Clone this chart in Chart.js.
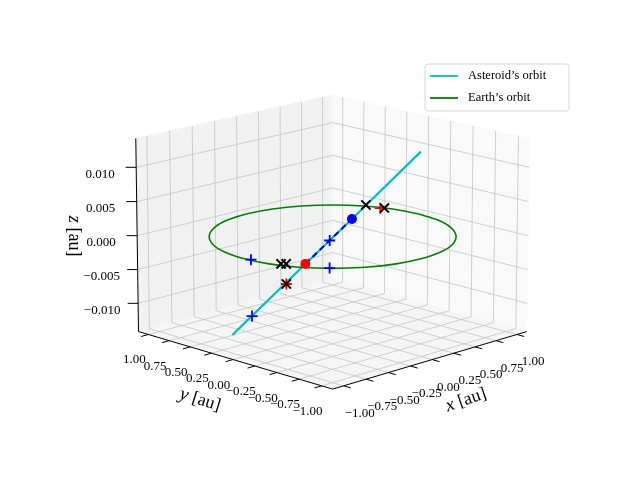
<!DOCTYPE html>
<html><head><meta charset="utf-8">
<script src="https://cdn.jsdelivr.net/npm/chart.js@4/dist/chart.umd.min.js"></script>
<style>html,body{margin:0;padding:0;background:#fff}</style>
</head><body>
<canvas id="c" width="640" height="480"></canvas>
<script>
// ---- data (au) ----
const earthX=[1,0.966,0.866,0.707,0.5,0.259,0,-0.259,-0.5,-0.707,-0.866,-0.966,-1,-0.966,-0.866,-0.707,-0.5,-0.259,0,0.259,0.5,0.707,0.866,0.966,1];
const earthY=[0,0.259,0.5,0.707,0.866,0.966,1,0.966,0.866,0.707,0.5,0.259,0,-0.259,-0.5,-0.707,-0.866,-0.966,-1,-0.966,-0.866,-0.707,-0.5,-0.259,0];
const astX=[-1.07,-0.386,-0.155,0.057,0.722];
const astY=[0.058,-0.076,-0.121,-0.163,-0.293];
const astZ=[-0.011,-0.0026,0.0002,0.0028,0.011];
const segX=[-0.386,0.057], segY=[-0.076,-0.163], segZ=[-0.0026,0.0028];
const redDotX=[-0.386], redDotY=[-0.076], redDotZ=[-0.0026];
const blueDotX=[0.057], blueDotY=[-0.163], blueDotZ=[0.0028];
const bluePlusX=[-0.888,-0.155,-0.98,-0.718], bluePlusY=[0.022,-0.121,-0.066,-0.684], bluePlusZ=[-0.0088,0.0002,0,0];
const redPlusX=[-0.869,0.913], redPlusY=[-0.352,0.352], redPlusZ=[-0.0029,0];
const blackXX=[-0.90,-0.871,-0.869,0.191,0.94], blackXY=[-0.325,-0.353,-0.352,-0.189,0.33], blackXZ=[0,0,-0.0029,0.0045,0];
const xyTicks=[-1,-0.75,-0.5,-0.25,0,0.25,0.5,0.75,1];
const xyTickLabels=['\u22121.00','\u22120.75','\u22120.50','\u22120.25','0.00','0.25','0.50','0.75','1.00'];
const zTicks=[-0.01,-0.005,0,0.005,0.01];
const zTickLabels=['\u22120.010','\u22120.005','0.000','0.005','0.010'];

// ---- projection ----
const L=1.12, ZL=0.0142, ZA=0.73, AZ=-135*Math.PI/180, EL=15*Math.PI/180, D=27, S=142, CX=333, CY=235.5;
const r=[-Math.sin(AZ),Math.cos(AZ),0];
const u=[-Math.sin(EL)*Math.cos(AZ),-Math.sin(EL)*Math.sin(AZ),Math.cos(EL)];
const v=[Math.cos(EL)*Math.cos(AZ),Math.cos(EL)*Math.sin(AZ),Math.sin(EL)];
function proj(x,y,z){
  const p=[x/L,y/L,z/ZL*ZA];
  const sx=p[0]*r[0]+p[1]*r[1]+p[2]*r[2];
  const sy=p[0]*u[0]+p[1]*u[1]+p[2]*u[2];
  const d=p[0]*v[0]+p[1]*v[1]+p[2]*v[2];
  const f=D/(D-d);
  return {x:sx*f,y:sy*f};
}
const pts=(X,Y,Z)=>X.map((x,i)=>proj(x,Y[i],Z?Z[i]:0));

const FONT='"Liberation Serif", "DejaVu Serif", serif';
const boxPlugin={
  id:'box',
  beforeDatasetsDraw(chart){
    const ctx=chart.ctx, sx=chart.scales.x, sy=chart.scales.y;
    const P=(x,y,z)=>{const q=proj(x,y,z);return [sx.getPixelForValue(q.x),sy.getPixelForValue(q.y)];};
    const poly=(arr,fill)=>{ctx.beginPath();arr.forEach((a,i)=>{const p=P(...a);i?ctx.lineTo(p[0],p[1]):ctx.moveTo(p[0],p[1]);});ctx.closePath();ctx.fillStyle=fill;ctx.fill();ctx.strokeStyle=fill;ctx.lineWidth=1;ctx.stroke();};
    const line=(a,b,col,w)=>{const p=P(...a),q=P(...b);ctx.beginPath();ctx.moveTo(p[0],p[1]);ctx.lineTo(q[0],q[1]);ctx.strokeStyle=col;ctx.lineWidth=w;ctx.stroke();};
    ctx.save();
    poly([[-L,L,-ZL],[L,L,-ZL],[L,L,ZL],[-L,L,ZL]],'#f2f2f2');
    poly([[L,-L,-ZL],[L,L,-ZL],[L,L,ZL],[L,-L,ZL]],'#f9f9f9');
    poly([[-L,-L,-ZL],[L,-L,-ZL],[L,L,-ZL],[-L,L,-ZL]],'#f6f6f6');
    const g='#c4c4c4';
    xyTicks.forEach(t=>{
      line([t,L,-ZL],[t,L,ZL],g,0.8);
      line([L,t,-ZL],[L,t,ZL],g,0.8);
      line([t,-L,-ZL],[t,L,-ZL],g,0.8);
      line([-L,t,-ZL],[L,t,-ZL],g,0.8);
    });
    zTicks.forEach(t=>{
      line([-L,L,t],[L,L,t],g,0.8);
      line([L,-L,t],[L,L,t],g,0.8);
    });
    line([-L,-L,-ZL],[L,-L,-ZL],'#000',1);
    line([-L,-L,-ZL],[-L,L,-ZL],'#000',1);
    line([-L,L,-ZL],[-L,L,ZL],'#000',1);
    ctx.fillStyle='#000';
    ctx.font='13px '+FONT;
    ctx.textAlign='center';ctx.textBaseline='middle';
    xyTicks.forEach((t,i)=>{
      line([t,-L,-ZL],[t,-L-0.08,-ZL],'#000',1);
      let p=P(t,-L-0.22,-ZL); ctx.fillText(xyTickLabels[i],p[0]-4,p[1]+22);
      line([-L,t,-ZL],[-L-0.08,t,-ZL],'#000',1);
      p=P(-L-0.22,t,-ZL); ctx.fillText(xyTickLabels[i],p[0]+6,p[1]+20);
    });
    zTicks.forEach((t,i)=>{
      line([-L,L,t],[-L-0.06,L+0.06,t],'#000',1);
      const p=P(-L,L,t); ctx.fillText(zTickLabels[i],p[0]-36,p[1]+7);
    });
    const lab=(txt,x,y,rot)=>{ctx.save();ctx.translate(x,y);ctx.rotate(rot);ctx.textBaseline='middle';
      ctx.font='italic 19px '+FONT;const w1=ctx.measureText(txt[0]).width;ctx.font='18px '+FONT;const w2=ctx.measureText(txt[1]).width;
      const st=-(w1+w2)/2;ctx.textAlign='left';ctx.font='italic 19px '+FONT;ctx.fillText(txt[0],st,0);ctx.font='18px '+FONT;ctx.fillText(txt[1],st+w1,0);ctx.restore();};
    lab(['x',' [au]'],466,400,-0.33);
    lab(['y',' [au]'],200,400,0.30);
    lab(['z',' [au]'],74,236,Math.PI/2);
    ctx.restore();
  },
  afterDraw(chart){
    const ctx=chart.ctx;ctx.save();
    const x0=425,y0=64,w=144,h=47;
    ctx.beginPath();ctx.roundRect(x0,y0,w,h,3);ctx.fillStyle='rgba(255,255,255,0.85)';ctx.fill();ctx.strokeStyle='#d6d6d6';ctx.lineWidth=1;ctx.stroke();
    const items=chart.data.datasets.filter(d=>d.label);
    ctx.font='12.5px '+FONT;ctx.textBaseline='middle';ctx.fillStyle='#000';
    items.forEach((d,i)=>{const yy=y0+12+i*22;ctx.beginPath();ctx.moveTo(x0+5,yy);ctx.lineTo(x0+33,yy);ctx.strokeStyle=d.borderColor;ctx.lineWidth=1.8;ctx.stroke();ctx.fillText(d.label,x0+43,yy);});
    ctx.restore();
  }
};

const mk=(data,style,color,rad,w,order)=>({data,order,showLine:false,pointStyle:style,pointRadius:rad,pointBorderColor:color,pointBackgroundColor:color,pointBorderWidth:w});
new Chart(document.getElementById('c'),{
  type:'scatter',
  data:{datasets:[
    {label:"Asteroid\u2019s orbit",order:10,data:pts(astX,astY,astZ),showLine:true,borderColor:'#00bfbf',borderWidth:2.2,pointRadius:0,fill:false},
    {label:"Earth\u2019s orbit",order:9,data:pts(earthX,earthY),showLine:true,borderColor:'#008000',borderWidth:1.6,pointRadius:0,tension:0.3,fill:false},
    {order:8,data:pts(segX,segY,segZ),showLine:true,borderColor:'#0000ff',borderWidth:2,borderDash:[6,4],pointRadius:0},
    mk(pts(redPlusX,redPlusY,redPlusZ),'cross','#ff0000',5.5,1.8,7),
    mk(pts(bluePlusX,bluePlusY,bluePlusZ),'cross','#0000ff',5.5,1.8,6),
    mk(pts(blackXX,blackXY,blackXZ),'crossRot','#000000',6.5,2,5),
    mk(pts(redDotX,redDotY,redDotZ),'circle','#ff0000',5,0,4),
    mk(pts(blueDotX,blueDotY,blueDotZ),'circle','#0000ff',5,0,3)
  ]},
  options:{responsive:false,devicePixelRatio:1,animation:false,layout:{padding:0},
    plugins:{legend:{display:false},tooltip:{enabled:false}},
    scales:{x:{display:false,min:-CX/S,max:(640-CX)/S},y:{display:false,min:-(480-CY)/S,max:CY/S}}},
  plugins:[boxPlugin]
});
</script></body></html>
